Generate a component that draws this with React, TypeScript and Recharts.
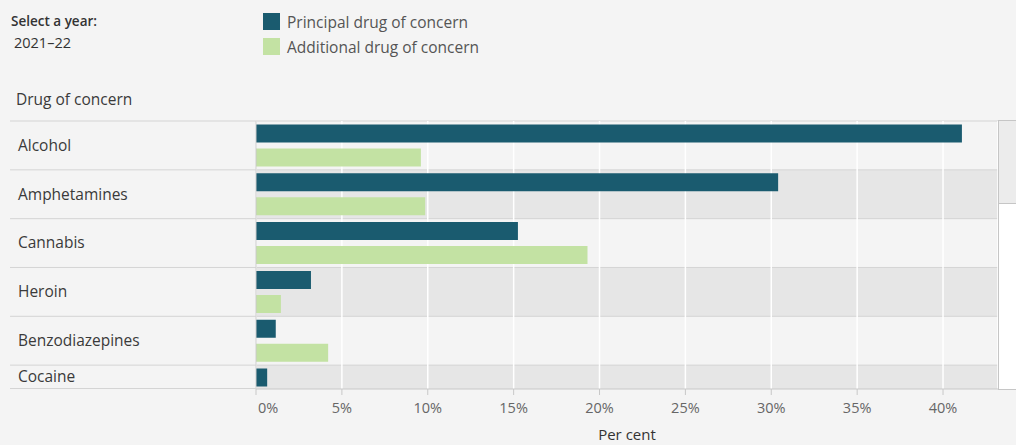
import React from 'react';
import { BarChart, Bar, XAxis, YAxis, CartesianGrid } from 'recharts';

const drugs = ['Alcohol', 'Amphetamines', 'Cannabis', 'Heroin', 'Benzodiazepines', 'Cocaine'];
const principal = [41.1, 30.4, 15.25, 3.2, 1.15, 0.65];
const additional = [9.6, 9.85, 19.3, 1.45, 4.2, 2.9];
const xTicks = [0, 5, 10, 15, 20, 25, 30, 35, 40];

const data = drugs.map((name, i) => ({ name, principal: principal[i], additional: additional[i] }));

const FONT = '"Open Sans", "Noto Sans", sans-serif';
const DARK = '#1a5b6f';
const LIGHT = '#c3e2a3';
const CHART_W = 998;
const LABEL_W = 256;
const BAND = 48.83;
const FULL_H = 1 + BAND * drugs.length;
const VISIBLE_H = 269;
const DOMAIN: [number, number] = [0, 43.2];

const RowTick = (props: any) => {
  const { y, payload } = props;
  const top = y - BAND / 2;
  const ly = Math.min(y, (top + VISIBLE_H) / 2);
  return (
    <g>
      <line x1={10} x2={LABEL_W} y1={top} y2={top} stroke="#d4d4d4" />
      <text x={18} y={ly} dy="0.35em" fontSize={15.5} fill="#3a3a3a" fontFamily={FONT}>
        {payload.value}
      </text>
    </g>
  );
};

const PctTick = (props: any) => {
  const { x, y, payload } = props;
  const first = payload.value === 0;
  return (
    <text
      x={first ? x + 2 : x}
      y={y + 16}
      textAnchor={first ? 'start' : 'middle'}
      fontSize={14.5}
      fill="#666"
      fontFamily={FONT}
    >
      {payload.value}%
    </text>
  );
};

const App = () => {
  return (
    <div style={{ position: 'absolute', left: 0, top: 0, width: 1016, height: 445, background: '#f4f4f4', fontFamily: FONT, overflow: 'hidden' }}>
      <div style={{ position: 'absolute', left: 11, top: 12, fontSize: 13.5, fontWeight: 600, color: '#333' }}>Select a year:</div>
      <div style={{ position: 'absolute', left: 14, top: 33, fontSize: 14.5, color: '#333' }}>2021–22</div>

      <div style={{ position: 'absolute', left: 263, top: 13, width: 17, height: 17, background: DARK }} />
      <div style={{ position: 'absolute', left: 287, top: 11, fontSize: 15.5, color: '#555' }}>Principal drug of concern</div>
      <div style={{ position: 'absolute', left: 263, top: 38, width: 17, height: 17, background: LIGHT }} />
      <div style={{ position: 'absolute', left: 287, top: 36, fontSize: 15.5, color: '#555' }}>Additional drug of concern</div>

      <div style={{ position: 'absolute', left: 16, top: 88, fontSize: 15.5, color: '#3a3a3a' }}>Drug of concern</div>

      {/* scrolled pane: the chart is taller than what is shown */}
      <div style={{ position: 'absolute', left: 0, top: 120, width: CHART_W, height: VISIBLE_H, overflow: 'hidden' }}>
        <BarChart
          width={CHART_W}
          height={FULL_H}
          data={data}
          layout="vertical"
          margin={{ top: 1, right: 0, bottom: 0, left: 0 }}
          barCategoryGap="7%"
          barGap={6}
        >
          <CartesianGrid
            vertical={false}
            stroke="#d4d4d4"
            horizontalFill={['#f4f4f4', '#e6e6e6']}
            horizontalCoordinatesGenerator={({ offset }: any) =>
              drugs.map((_, i) => offset.top + (i * offset.height) / drugs.length)
            }
          />
          <CartesianGrid horizontal={false} stroke="#ffffff" strokeWidth={1.5} />
          <XAxis type="number" domain={DOMAIN} ticks={xTicks} allowDataOverflow hide />
          <YAxis
            type="category"
            dataKey="name"
            width={LABEL_W}
            axisLine={{ stroke: '#c8c8c8' }}
            tickLine={false}
            tick={<RowTick />}
            interval={0}
          />
          <Bar dataKey="principal" name="Principal drug of concern" fill={DARK} isAnimationActive={false} />
          <Bar dataKey="additional" name="Additional drug of concern" fill={LIGHT} isAnimationActive={false} />
        </BarChart>
      </div>

      <div style={{ position: 'absolute', left: 10, top: 388, width: LABEL_W - 10, height: 1, background: '#d4d4d4' }} />

      {/* fixed x axis below the pane */}
      <div style={{ position: 'absolute', left: 0, top: 120 }}>
        <BarChart
          width={CHART_W}
          height={325}
          data={data}
          layout="vertical"
          margin={{ top: 1, right: 0, bottom: 0, left: LABEL_W }}
        >
          <XAxis
            type="number"
            domain={DOMAIN}
            ticks={xTicks}
            allowDataOverflow
            height={56}
            axisLine={{ stroke: '#c8c8c8' }}
            tickLine={{ stroke: '#c8c8c8' }}
            tickSize={6}
            tick={<PctTick />}
            label={{ value: 'Per cent', position: 'insideBottom', offset: 5, fontSize: 15, fill: '#333', fontFamily: FONT }}
          />
          <YAxis type="category" dataKey="name" hide />
        </BarChart>
      </div>

      {/* scrollbar */}
      <div style={{ position: 'absolute', left: 998, top: 120, width: 30, height: 268, background: '#fff', border: '1px solid #c6c6c6' }}>
        <div style={{ height: 82, background: '#ececec', borderBottom: '1px solid #c6c6c6' }} />
      </div>
    </div>
  );
};

export default App;
